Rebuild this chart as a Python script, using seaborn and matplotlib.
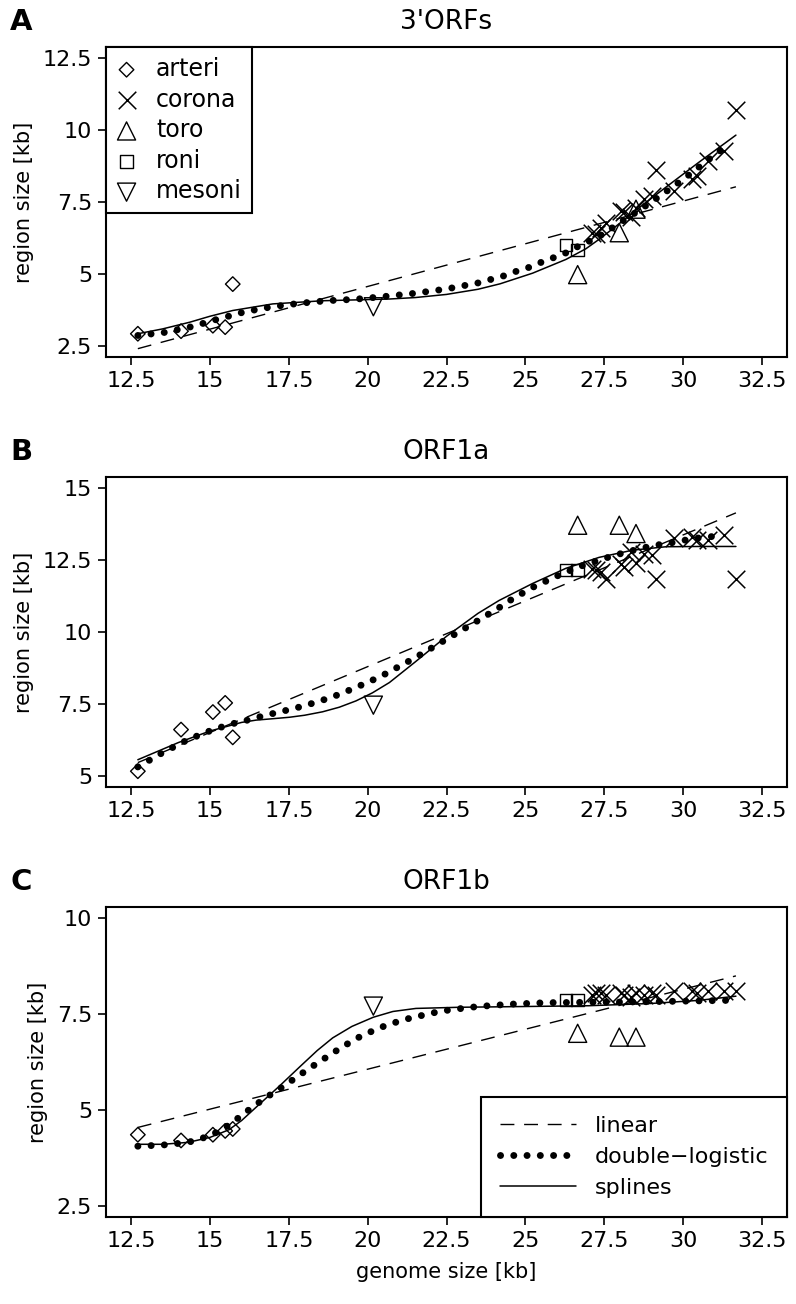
import matplotlib
matplotlib.use("Agg")
import matplotlib.pyplot as plt
import pandas as pd
import seaborn as sns

# ---------------------------------------------------------------------------
# values (all sizes in kb)
# ---------------------------------------------------------------------------
families = ["arteri", "corona", "toro", "roni", "mesoni"]

arteri_genome = [12.71, 14.08, 15.09, 15.48, 15.72]
arteri_3orf   = [2.91, 3.00, 3.19, 3.14, 4.64]
arteri_orf1a  = [5.15, 6.60, 7.21, 7.53, 6.33]
arteri_orf1b  = [4.35, 4.20, 4.35, 4.45, 4.50]

corona_genome = [27.13, 27.24, 27.39, 27.55, 28.03, 28.13, 28.35, 28.50, 28.77,
                 29.03, 29.14, 29.72, 30.29, 30.45, 30.78, 31.31, 31.68]
corona_3orf   = [6.43, 6.38, 6.60, 6.78, 7.19, 7.15, 6.98, 7.30, 7.59,
                 7.70, 8.63, 7.88, 8.30, 8.40, 8.92, 9.27, 10.72]
corona_orf1a  = [12.21, 12.15, 12.09, 11.86, 12.38, 12.27, 12.79, 12.40, 12.73,
                 12.67, 11.86, 13.26, 13.31, 13.20, 13.20, 13.37, 11.86]
corona_orf1b  = [8.00, 8.05, 8.05, 8.00, 8.05, 8.00, 7.95, 8.05, 8.00,
                 8.05, 8.00, 8.10, 8.10, 8.05, 8.10, 8.10, 8.10]

toro_genome = [26.66, 27.98, 28.51]
toro_3orf   = [4.97, 6.43, 7.25]
toro_orf1a  = [13.72, 13.72, 13.43]
toro_orf1b  = [7.00, 6.90, 6.90]

roni_genome = [26.29, 26.65]
roni_3orf   = [6.01, 5.83]
roni_orf1a  = [12.15, 12.17]
roni_orf1b  = [7.87, 7.87]

mesoni_genome = [20.18]
mesoni_3orf   = [3.85]
mesoni_orf1a  = [7.45]
mesoni_orf1b  = [7.71]

# fitted curves
lin_3orf_x = [12.71, 31.68]
lin_3orf_y = [2.39, 8.03]
dlog_3orf_x = [12.71, 13.59, 14.43, 15.28, 16.12, 16.97, 17.83, 18.70, 19.58, 20.46,
               21.5, 22.5, 23.5, 24.33, 24.75, 25.17, 25.57, 25.97, 26.39, 26.76,
               27.18, 27.53, 27.92, 28.61, 29.35, 30.07, 30.78, 31.46]
dlog_3orf_y = [2.85, 2.96, 3.16, 3.43, 3.68, 3.85, 3.97, 4.06, 4.11, 4.20,
               4.32, 4.47, 4.68, 4.93, 5.10, 5.24, 5.43, 5.59, 5.77, 6.01,
               6.20, 6.43, 6.72, 7.21, 7.77, 8.34, 8.95, 9.52]
spl_3orf_x = [12.71, 13.5, 14.35, 15.0, 15.72, 16.99, 18.57, 19.63, 20.69, 21.5,
              22.5, 23.5, 24.2, 25.23, 26.29, 26.92, 27.34, 27.87, 28.61, 29.5,
              30.5, 31.68]
spl_3orf_y = [2.91, 3.08, 3.31, 3.52, 3.72, 3.95, 4.06, 4.09, 4.12, 4.17,
              4.28, 4.46, 4.65, 5.02, 5.50, 5.87, 6.20, 6.65, 7.30, 8.05,
              8.88, 9.83]

lin_orf1a_x = [12.71, 31.68]
lin_orf1a_y = [5.45, 14.15]
dlog_orf1a_x = [12.71, 13.5, 14.3, 15.1, 15.7, 16.3, 16.69, 17.15, 17.57, 17.99,
                18.41, 18.84, 19.26, 19.63, 20.05, 20.46, 21.5, 22.5, 23.5, 24.23,
                24.6, 24.97, 25.36, 25.76, 26.16, 26.58, 26.97, 27.4, 27.82, 28.24,
                28.66, 29.09, 29.51, 29.93, 30.35, 30.81, 31.25]
dlog_orf1a_y = [5.30, 5.80, 6.25, 6.60, 6.80, 6.96, 7.08, 7.20, 7.31, 7.43,
                7.57, 7.72, 7.90, 8.07, 8.27, 8.48, 9.10, 9.75, 10.40, 10.89,
                11.16, 11.39, 11.63, 11.82, 12.03, 12.21, 12.38, 12.52, 12.67, 12.79,
                12.91, 13.02, 13.08, 13.17, 13.26, 13.31, 13.37]
spl_orf1a_x = [12.71, 14.0, 15.0, 16.0, 16.46, 17.0, 17.52, 18.0, 18.57, 19.1,
               19.63, 20.15, 20.69, 21.5, 22.5, 23.5, 24.17, 25.23, 26.29, 27.34,
               28.4, 29.46, 30.5, 31.68]
spl_orf1a_y = [5.55, 6.15, 6.55, 6.85, 6.93, 6.98, 7.03, 7.10, 7.22, 7.38,
               7.60, 7.88, 8.24, 8.95, 9.85, 10.65, 11.10, 11.69, 12.22, 12.60,
               12.85, 12.97, 12.98, 12.98]

lin_orf1b_x = [12.71, 31.68]
lin_orf1b_y = [4.54, 8.50]
dlog_orf1b_x = [12.71, 13.5, 14.3, 15.0, 15.6, 16.2, 16.73, 17.1, 17.46, 17.84,
                18.2, 18.57, 18.94, 19.31, 19.68, 20.07, 20.47, 20.9, 21.32, 21.74,
                22.17, 22.59, 23.5, 24.5, 25.65, 27.0, 28.5, 30.0, 31.46]
dlog_orf1b_y = [4.05, 4.08, 4.15, 4.32, 4.60, 4.98, 5.30, 5.49, 5.69, 5.91,
                6.11, 6.31, 6.51, 6.70, 6.88, 7.03, 7.17, 7.29, 7.39, 7.47,
                7.55, 7.61, 7.70, 7.76, 7.80, 7.81, 7.82, 7.84, 7.86]
spl_orf1b_x = [12.71, 13.5, 14.3, 15.0, 15.6, 16.0, 16.57, 17.2, 17.84, 18.4,
               18.89, 19.5, 20.18, 20.8, 21.53, 22.91, 25.0, 27.0, 29.0, 30.5,
               31.68]
spl_orf1b_y = [4.10, 4.10, 4.15, 4.28, 4.48, 4.72, 5.15, 5.62, 6.12, 6.55,
               6.88, 7.18, 7.42, 7.57, 7.65, 7.68, 7.70, 7.72, 7.78, 7.86,
               7.97]

x_ticks = [12.5, 15, 17.5, 20, 22.5, 25, 27.5, 30, 32.5]
x_tick_labels = ["12.5", "15", "17.5", "20", "22.5", "25", "27.5", "30", "32.5"]

# ---------------------------------------------------------------------------
genomes = {"arteri": arteri_genome, "corona": corona_genome, "toro": toro_genome,
           "roni": roni_genome, "mesoni": mesoni_genome}

panels = [
    dict(letter="A", title="3'ORFs",
         sizes={"arteri": arteri_3orf, "corona": corona_3orf, "toro": toro_3orf,
                "roni": roni_3orf, "mesoni": mesoni_3orf},
         lin=(lin_3orf_x, lin_3orf_y), dlog=(dlog_3orf_x, dlog_3orf_y),
         spl=(spl_3orf_x, spl_3orf_y),
         ylim=(2.1, 12.9), yticks=[2.5, 5, 7.5, 10, 12.5],
         ylabels=["2.5", "5", "7.5", "10", "12.5"]),
    dict(letter="B", title="ORF1a",
         sizes={"arteri": arteri_orf1a, "corona": corona_orf1a, "toro": toro_orf1a,
                "roni": roni_orf1a, "mesoni": mesoni_orf1a},
         lin=(lin_orf1a_x, lin_orf1a_y), dlog=(dlog_orf1a_x, dlog_orf1a_y),
         spl=(spl_orf1a_x, spl_orf1a_y),
         ylim=(4.6, 15.4), yticks=[5, 7.5, 10, 12.5, 15],
         ylabels=["5", "7.5", "10", "12.5", "15"]),
    dict(letter="C", title="ORF1b",
         sizes={"arteri": arteri_orf1b, "corona": corona_orf1b, "toro": toro_orf1b,
                "roni": roni_orf1b, "mesoni": mesoni_orf1b},
         lin=(lin_orf1b_x, lin_orf1b_y), dlog=(dlog_orf1b_x, dlog_orf1b_y),
         spl=(spl_orf1b_x, spl_orf1b_y),
         ylim=(2.2, 10.3), yticks=[2.5, 5, 7.5, 10],
         ylabels=["2.5", "5", "7.5", "10"]),
]

marker_style = {
    "arteri": dict(marker="D", s=55),
    "corona": dict(marker="x", s=160),
    "toro":   dict(marker="^", s=170),
    "roni":   dict(marker="s", s=80),
    "mesoni": dict(marker="v", s=170),
}

sns.set_style("ticks")
plt.rcParams["font.family"] = ["DejaVu Sans"]
plt.rcParams["axes.edgecolor"] = "black"
plt.rcParams["xtick.color"] = "black"
plt.rcParams["ytick.color"] = "black"
plt.rcParams["text.color"] = "black"
plt.rcParams["axes.labelcolor"] = "black"

fig = plt.figure(figsize=(7.96, 13.04), dpi=100)
W, H = 796, 1304
box_left, box_width, box_height = 106, 681, 310
box_tops = [47, 477, 907]

for p, top in zip(panels, box_tops):
    ax = fig.add_axes([box_left / W, 1 - (top + box_height) / H,
                       box_width / W, box_height / H])

    for fam in families:
        kw = marker_style[fam]
        df = pd.DataFrame({"genome": genomes[fam], "size": p["sizes"][fam]})
        if kw["marker"] == "x":
            sns.scatterplot(data=df, x="genome", y="size", ax=ax, marker="x",
                            s=kw["s"], color="black", linewidth=1.1,
                            label=fam, zorder=3)
        else:
            sns.scatterplot(data=df, x="genome", y="size", ax=ax,
                            marker=kw["marker"], s=kw["s"], facecolor="none",
                            edgecolor="black", linewidth=1.0, label=fam, zorder=3)

    lin = pd.DataFrame({"g": p["lin"][0], "v": p["lin"][1]})
    dlog = pd.DataFrame({"g": p["dlog"][0], "v": p["dlog"][1]})
    spl = pd.DataFrame({"g": p["spl"][0], "v": p["spl"][1]})
    sns.lineplot(data=lin, x="g", y="v", ax=ax, color="black", linewidth=1.0,
                 linestyle=(0, (10, 7)), label="linear", zorder=2)
    sns.lineplot(data=dlog, x="g", y="v", ax=ax, color="black", linewidth=5.0,
                 linestyle=(0, (0.01, 1.9)), label="double\u2212logistic", zorder=2)
    ax.lines[-1].set_dash_capstyle("round")
    sns.lineplot(data=spl, x="g", y="v", ax=ax, color="black", linewidth=1.1,
                 label="splines", zorder=2)

    ax.set_xlim(11.7, 33.3)
    ax.set_ylim(*p["ylim"])
    ax.set_xticks(x_ticks)
    ax.set_xticklabels(x_tick_labels)
    ax.set_yticks(p["yticks"])
    ax.set_yticklabels(p["ylabels"])
    ax.tick_params(labelsize=16, direction="out", pad=4, length=6, width=1.2)
    for sp in ax.spines.values():
        sp.set_visible(True)
        sp.set_linewidth(1.5)
    ax.set_title(p["title"], fontsize=19, pad=13)
    ax.set_ylabel("region size [kb]", fontsize=15, labelpad=6)
    ax.set_xlabel("genome size [kb]" if p["letter"] == "C" else "", fontsize=15,
                  labelpad=8)

    handles, labels = ax.get_legend_handles_labels()
    if p["letter"] == "A":
        leg = ax.legend(handles[:5], labels[:5], loc="upper left",
                        borderaxespad=0, fancybox=False, fontsize=17,
                        handletextpad=0.8, labelspacing=0.28,
                        borderpad=0.42, handlelength=0.9)
    elif p["letter"] == "C":
        leg = ax.legend(handles[5:], labels[5:], loc="lower right",
                        borderaxespad=0, fancybox=False, fontsize=16,
                        handlelength=3.4, handletextpad=0.85, labelspacing=0.5,
                        borderpad=0.85)
    else:
        leg = None
        if ax.get_legend():
            ax.get_legend().remove()
    if leg is not None:
        leg.get_frame().set_edgecolor("black")
        leg.get_frame().set_linewidth(1.5)
        leg.get_frame().set_alpha(1)

    fig.text(10 / W, 1 - (top - 25) / H, p["letter"], fontsize=21,
             fontweight="bold", va="center", ha="left")

fig.savefig("out.png", dpi=100)
